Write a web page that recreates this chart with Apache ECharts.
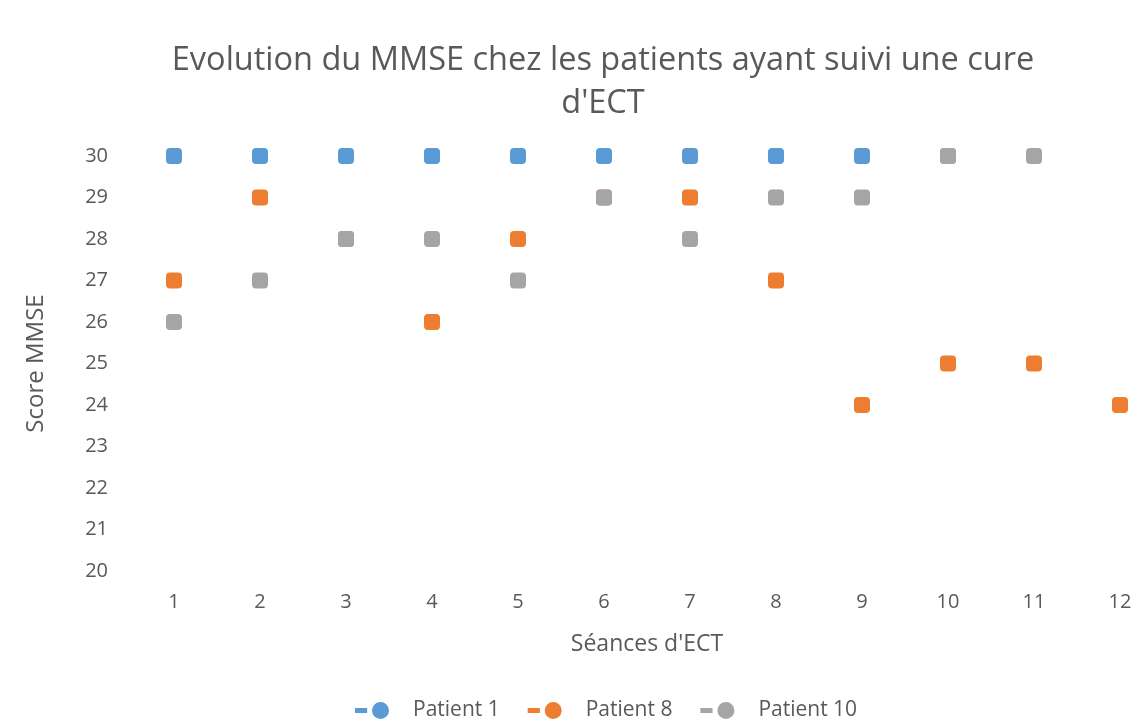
<!DOCTYPE html>
<html><head><meta charset="utf-8">
<script src="https://cdn.jsdelivr.net/npm/echarts@6/dist/echarts.min.js"></script>
<style>html,body{margin:0;padding:0;background:#fff}#c{width:1138px;height:726px}</style>
</head><body><div id="c"></div>
<script>
const seances = ['1','2','3','4','5','6','7','8','9','10','11','12'];
const patient1 = [30,30,30,30,30,30,30,30,30,30,null,null];
const patient8 = [27,29,28,26,28,29,29,27,24,25,25,24];
const patient10 = [26,27,28,28,27,29,28,29,29,30,30,null];
const yTicks = {min:20, max:30, interval:1};

const font = '"Open Sans", "Noto Sans", sans-serif';
const txt = '#595959';
const icon = 'path://M0,5 L10,5 L10,9 L0,9 Z M14,7 A7,7 0 1 1 28,7 A7,7 0 1 1 14,7 Z';
function ser(name, data, color){
  return {name, type:'scatter', data, symbol:'path://M4,0 H12 A4,4 0 0 1 16,4 V12 A4,4 0 0 1 12,16 H4 A4,4 0 0 1 0,12 V4 A4,4 0 0 1 4,0 Z', symbolSize:16,
    itemStyle:{color, opacity:1}, emphasis:{disabled:true}};
}
const chart = echarts.init(document.getElementById('c'), null, {renderer:'canvas'});
chart.setOption({
  animation:false,
  title:{text:"Evolution du MMSE chez les patients ayant suivi une cure\nd'ECT", left:598, textAlign:'center', top:34,
    textStyle:{fontFamily:font, fontSize:32.5, fontWeight:'normal', color:txt, lineHeight:43}},
  grid:{left:131, top:156, width:1032, height:415, outerBoundsMode:'none', containLabel:false},
  xAxis:{type:'category', data:seances, boundaryGap:true,
    axisLine:{show:false}, axisTick:{show:false},
    axisLabel:{fontFamily:font, fontSize:20, color:txt, margin:21},
    name:"Séances d'ECT", nameLocation:'middle', nameGap:62,
    nameTextStyle:{fontFamily:font, fontSize:23, color:txt}},
  yAxis:{type:'value', min:yTicks.min, max:yTicks.max, interval:yTicks.interval,
    splitLine:{show:false}, axisLine:{show:false}, axisTick:{show:false},
    axisLabel:{fontFamily:font, fontSize:20, color:txt, margin:23},
    name:'Score MMSE', nameLocation:'middle', nameGap:83,
    nameTextStyle:{fontFamily:font, fontSize:24, color:txt}},
  legend:{bottom:0, left:350, icon:icon, itemWidth:36, itemHeight:17, itemGap:28,
    textStyle:{fontFamily:font, fontSize:21, color:txt, padding:[0,0,0,18]},
    data:['Patient 1','Patient 8','Patient 10']},
  series:[ser('Patient 1', patient1, '#5B9BD5'), ser('Patient 8', patient8, '#ED7D31'), ser('Patient 10', patient10, '#A5A5A5')]
});
</script></body></html>
